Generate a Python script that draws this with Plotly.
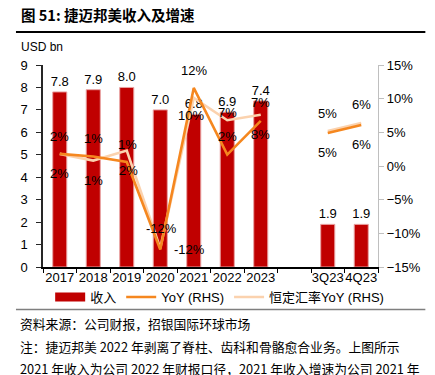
import plotly.graph_objects as go

# ---- data ----
categories = ["2017", "2018", "2019", "2020", "2021", "2022", "2023", "\u3000", "3Q23", "4Q23"]
revenue = [7.8, 7.9, 8.0, 7.0, 6.8, 6.9, 7.4, None, 1.9, 1.9]
yoy = [1.8, 1.4, 0.6, -12.4, 11.6, 1.7, 6.7, None, 4.9, 6.1]
yoy_labels = ["2%", "1%", "2%", "-12%", "12%", "2%", "8%", "", "5%", "6%"]
cc_yoy = [1.8, 0.8, 2.3, -12.2, 10.1, 6.8, 7.6, None, 5.2, 6.4]
cc_labels = ["2%", "1%", "1%", "-12%", "10%", "7%", "7%", "", "5%", "6%"]

# ---- styles / label placement (pixel shifts: dx right, dy down) ----
yoy_shift = [(0, 20), (0, 24), (2, 9), (29, 0), (0, -17), (0, -18), (0, 14), None, (0, 19), (0, 20)]
cc_shift = [(0, -17), (0, -22), (1, -6), (1, -20), (-3, 18), (0, -8), (0, -12), None, (0, -17), (0, -18)]

RED = "#C00000"
ORANGE = "#F5871F"
LIGHT = "#FBD2AE"
FONT = "Liberation Sans, Arial, Noto Sans CJK SC"
CJK = "Noto Sans CJK SC, Liberation Sans"

W, H = 435, 375
L, R, T, B = 43, 377.7, 65, 267


def px(x):
    return (x - L) / (R - L)


def py(y):
    return (B - y) / (B - T)


fig = go.Figure()

fig.add_trace(go.Bar(
    x=categories, y=revenue, name="收入", showlegend=False,
    marker=dict(color=RED, line=dict(color="#E9A3A3", width=1)),
    width=0.42,
    text=[f"{v:.1f}" if v is not None else "" for v in revenue],
    textposition="outside", constraintext="none",
    textfont=dict(size=13, color="black", family=FONT),
    cliponaxis=False,
))
# legend proxy for the bar (wide rectangle as in the reference)
fig.add_trace(go.Scatter(
    x=[categories[0]], y=[None], mode="lines", name="收入",
    line=dict(color=RED, width=9), legendrank=1,
))
fig.add_trace(go.Scatter(
    x=categories, y=cc_yoy, name="恒定汇率YoY (RHS)", yaxis="y2", mode="lines",
    line=dict(color=LIGHT, width=2.6), legendrank=3,
))
fig.add_trace(go.Scatter(
    x=categories, y=yoy, name="YoY (RHS)", yaxis="y2", mode="lines",
    line=dict(color=ORANGE, width=2.6), legendrank=2,
))

annotations = []
for vals, labs, shifts in ((yoy, yoy_labels, yoy_shift), (cc_yoy, cc_labels, cc_shift)):
    for i, (v, t, s) in enumerate(zip(vals, labs, shifts)):
        if v is None or s is None:
            continue
        annotations.append(dict(
            x=i, y=v, xref="x", yref="y2", text=t, showarrow=False,
            xshift=s[0], yshift=-s[1], font=dict(size=13, color="black", family=FONT),
        ))

# title and notes
annotations.append(dict(
    x=px(19), y=py(14), xref="paper", yref="paper", xanchor="left", yanchor="middle",
    text="<b>图 51: 捷迈邦美收入及增速</b>", showarrow=False,
    font=dict(size=14.5, color="black", family=CJK),
))
annotations.append(dict(
    x=px(19), y=py(47), xref="paper", yref="paper", xanchor="left", yanchor="middle",
    text="USD bn", showarrow=False, font=dict(size=12, color="black", family=FONT),
))
notes = [
    (323, "资料来源：公司财报，招银国际环球市场"),
    (346, "注：捷迈邦美 2022 年剥离了脊柱、齿科和骨骼愈合业务。上图所示"),
    (368, "2021 年收入为公司 2022 年财报口径，2021 年收入增速为公司 2021 年"),
]
for yy, t in notes:
    annotations.append(dict(
        x=px(18), y=py(yy), xref="paper", yref="paper", xanchor="left", yanchor="middle",
        text=t, showarrow=False, font=dict(size=12.8, color="black", family=CJK),
    ))

shapes = [
    dict(type="line", xref="paper", yref="paper", x0=px(16), x1=px(425), y0=py(32), y1=py(32),
         line=dict(color="black", width=2)),
    dict(type="line", xref="paper", yref="paper", x0=px(16), x1=px(425), y0=py(309.5), y1=py(309.5),
         line=dict(color="#7F7F7F", width=1.5)),
]

fig.update_layout(
    width=W, height=H,
    margin=dict(l=L, r=W - R, t=T, b=H - B, autoexpand=False),
    paper_bgcolor="white", plot_bgcolor="white",
    font=dict(family=FONT, size=13, color="black"),
    showlegend=True,
    legend=dict(orientation="h", xref="container", yref="container",
                x=0.505, xanchor="center", y=1 - 297 / H, yanchor="middle",
                font=dict(size=13, family=FONT), itemwidth=30,
                bgcolor="rgba(0,0,0,0)"),
    xaxis=dict(type="category", categoryorder="array", categoryarray=categories,
               range=[-0.5, len(categories) - 0.5],
               showline=True, linecolor="black", linewidth=1.5,
               ticks="outside", tickson="boundaries", ticklen=4, tickcolor="black",
               showgrid=False, tickfont=dict(size=13), tickangle=0,
               ticklabelstandoff=-2),
    yaxis=dict(range=[0, 9], dtick=1, showline=True, linecolor="#262626", linewidth=1.5,
               ticks="outside", ticklen=5, tickcolor="#262626", showgrid=False,
               zeroline=False, tickfont=dict(size=13), ticklabelstandoff=6),
    yaxis2=dict(range=[-15, 15], dtick=5, ticksuffix="%", overlaying="y", side="right",
                showline=True, linecolor="#BFBFBF", linewidth=1.2,
                ticks="outside", ticklen=5, tickcolor="#BFBFBF", showgrid=False,
                zeroline=False, tickfont=dict(size=13)),
    annotations=annotations,
    shapes=shapes,
)

fig.write_html("out.html", config={"displayModeBar": False},
               post_script="document.body.style.margin='0';")
